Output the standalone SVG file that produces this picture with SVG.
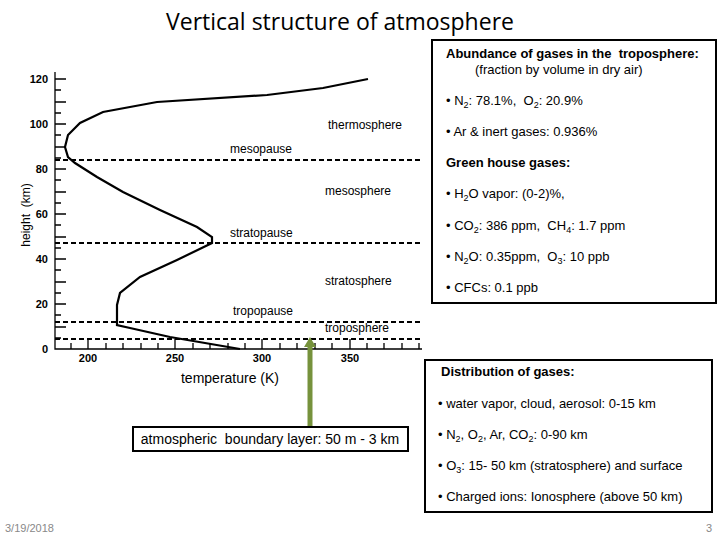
<svg xmlns="http://www.w3.org/2000/svg" width="720" height="540" viewBox="0 0 720 540">
<style>
text{font-family:"Liberation Sans",Arial,sans-serif;fill:#000;white-space:pre}
.t{font-size:12px}
.g{font-size:13px}
.b{font-size:11px;font-weight:bold}
.d{stroke:#000;stroke-width:2;stroke-dasharray:5,3;fill:none}
.ax{stroke:#000;stroke-width:1.3;fill:none}
.box{fill:#fff;stroke:#000;stroke-width:2}
</style>
<rect width="720" height="540" fill="#fff"/>
<text x="340" y="30" font-size="23" text-anchor="middle" style="font-family:'Open Sans','DejaVu Sans',sans-serif">Vertical structure of atmosphere</text>
<g id="axes">
<path class="ax" d="M55,72V349H422"/>
<path class="ax" d="M55,79h11M55,90h6M55,102h11M55,113h6M55,124h11M55,135h6M55,147h11M55,158h6M55,169h11M55,180h6M55,192h11M55,203h6M55,214h11M55,225h6M55,237h11M55,248h6M55,259h11M55,270h6M55,282h11M55,293h6M55,304h11M55,315h6M55,327h11M55,338h6"/>
<path class="ax" d="M71,349v-6M88,349v-10M106,349v-6M123,349v-6M141,349v-6M158,349v-6M175,349v-10M193,349v-6M210,349v-6M228,349v-6M245,349v-6M262,349v-10M280,349v-6M297,349v-6M315,349v-6M332,349v-6M350,349v-10M367,349v-6M384,349v-6M402,349v-6M419,349v-6"/>
<g class="b" text-anchor="end"><text x="48" y="83">120</text><text x="48" y="128">100</text><text x="48" y="173">80</text><text x="48" y="218">60</text><text x="48" y="263">40</text><text x="48" y="308">20</text><text x="48" y="353">0</text></g>
<g class="b" text-anchor="middle"><text x="88" y="362">200</text><text x="175" y="362">250</text><text x="262" y="362">300</text><text x="350" y="362">350</text></g>
<text class="t" x="30" y="215" text-anchor="middle" transform="rotate(-90 30 215)">height  (km)</text>
<text x="230" y="383" font-size="14" text-anchor="middle">temperature (K)</text>
</g>
<g id="curve"><path fill="none" stroke="#000" stroke-width="2.2" d="M368,79L323,88L267,95L157,102L103,112L80,123L68,135L65,147L68,157L75,163L97,177L123,192L160,210L197,227L212,237L212,243L177,260L140,277L120,293L117,305L117,325L130,328L170,337L240,349"/></g>
<g id="layers">
<path class="d" d="M55,160H422M55,243H422M55,322H422M55,339H422"/>
<g class="t"><text x="230" y="153">mesopause</text><text x="328" y="129">thermosphere</text><text x="325" y="195">mesosphere</text><text x="230" y="237">stratopause</text><text x="325" y="285">stratosphere</text><text x="233" y="315">tropopause</text><text x="325" y="332">troposphere</text></g>
</g>
<g id="connectors"><path d="M310,426V346" stroke="#76923c" stroke-width="5" fill="none"/><path d="M304,347L310,337L316,347Z" fill="#76923c"/></g>
<g id="abundance">
<rect class="box" x="432" y="40" width="284" height="263"/>
<text x="446" y="58" font-size="13" font-weight="bold">Abundance of gases in the  troposphere:</text>
<text class="g" x="475" y="74">(fraction by volume in dry air)</text>
<g class="g">
<text x="446" y="105">• N<tspan font-size="9" dy="3">2</tspan><tspan dy="-3">: 78.1%,  O</tspan><tspan font-size="9" dy="3">2</tspan><tspan dy="-3">: 20.9%</tspan></text>
<text x="446" y="136">• Ar &amp; inert gases: 0.936%</text>
<text x="446" y="198">• H<tspan font-size="9" dy="3">2</tspan><tspan dy="-3">O vapor: (0-2)%,</tspan></text>
<text x="446" y="230">• CO<tspan font-size="9" dy="3">2</tspan><tspan dy="-3">: 386 ppm,  CH</tspan><tspan font-size="9" dy="3">4</tspan><tspan dy="-3">: 1.7 ppm</tspan></text>
<text x="446" y="261">• N<tspan font-size="9" dy="3">2</tspan><tspan dy="-3">O: 0.35ppm,  O</tspan><tspan font-size="9" dy="3">3</tspan><tspan dy="-3">: 10 ppb</tspan></text>
<text x="446" y="292">• CFCs: 0.1 ppb</text>
</g>
<text x="446" y="167" font-size="13" font-weight="bold">Green house gases:</text>
</g>
<g id="distribution">
<rect class="box" x="425" y="360" width="287" height="152"/>
<text x="441" y="376" font-size="13" font-weight="bold">Distribution of gases:</text>
<g class="g">
<text x="438" y="408">• water vapor, cloud, aerosol: 0-15 km</text>
<text x="438" y="439">• N<tspan font-size="9" dy="3">2</tspan><tspan dy="-3">, O</tspan><tspan font-size="9" dy="3">2</tspan><tspan dy="-3">, Ar, CO</tspan><tspan font-size="9" dy="3">2</tspan><tspan dy="-3">: 0-90 km</tspan></text>
<text x="438" y="470">• O<tspan font-size="9" dy="3">3</tspan><tspan dy="-3">: 15- 50 km (stratosphere) and surface</tspan></text>
<text x="438" y="501">• Charged ions: Ionosphere (above 50 km)</text>
</g>
</g>
<g id="boundary">
<rect class="box" x="133" y="427" width="275" height="24"/>
<text x="270" y="444" font-size="14" text-anchor="middle">atmospheric  boundary layer: 50 m - 3 km</text>
</g>
<text x="5" y="532" font-size="11" style="fill:#888">3/19/2018</text>
<text x="712" y="532" font-size="11" text-anchor="end" style="fill:#888">3</text>
</svg>
